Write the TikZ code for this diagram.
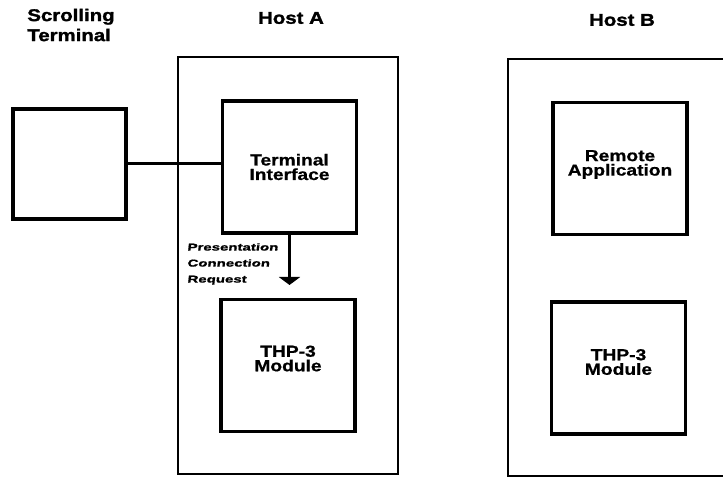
\documentclass[tikz,border=0pt]{standalone}
\usepackage{fontspec}
\setmainfont{Liberation Sans}[FakeStretch=1.2,BoldFeatures={FakeBold=0.8}]
\newfontfamily\titlefont{Liberation Sans}[FakeStretch=1.2,BoldFeatures={FakeBold=1.6}]
\newfontfamily\notefont{Liberation Sans}[FakeStretch=1.5,FakeSlant=0.12,BoldFeatures={FakeBold=1.2}]
\usetikzlibrary{arrows.meta}

\begin{document}
\begin{tikzpicture}
[x=1pt,y=-1pt,
  boxDecorate/.style={shape=rectangle,draw,line width=3.2pt,minimum width=134pt,
    minimum height=132pt,inner sep=0pt},
  textDecorate/.style={inner sep=0pt,align=center,font=\fontsize{16}{14.5}\selectfont\bfseries},
  hostDecorate/.style={shape=rectangle,draw,line width=2.4pt,minimum width=220pt,
    minimum height=417pt,inner sep=0pt},
  titleDecorate/.style={inner sep=0pt,align=center,font=\titlefont\fontsize{17}{20}\selectfont\bfseries},
  lineDecorate/.style={-,line width=3pt},
  arrowDecorate/.style={-{Triangle[width=21pt,length=8pt]},line width=2.6pt}]
\useasboundingbox (0,0) rectangle (723,478);
\clip (0,0) rectangle (723,478);
%% hosts
\node (hostA) at (288,265.5) [hostDecorate] {};
\node (hostB) at (624,267.5) [hostDecorate,minimum width=232pt] {};
%% titles
\node (scroll) at (71,25) [titleDecorate,align=left] {Scrolling\\Terminal};
\foreach \nodename/\x/\y/\txt in {
  titleA/291/18/{Host A}, titleB/622/20/{Host B}}
{
  \node (\nodename) at (\x,\y) [titleDecorate] {\txt};
}
%% boxes
\node (term) at (69.5,164) [boxDecorate,minimum width=113pt,minimum height=110pt] {};
\foreach \nodename/\x/\y in {
  iface/289.5/167, thpA/288/365.5, remote/620/168.5, thpB/618.5/368}
{
  \node (\nodename) at (\x,\y) [boxDecorate] {};
}
%% box texts
\foreach \nodename/\txt/\dy in {
  iface/{Terminal\\Interface}/0, thpA/{THP-3\\Module}/7,
  remote/{Remote\\Application}/4, thpB/{THP-3\\Module}/6}
{
  \node (\nodename-text) at ([yshift=\dy pt]\nodename.center) [textDecorate] {\txt};
}
%% connectors
\coordinate (tip) at (288,285);
\draw[lineDecorate] (term.east) -- (term.east -| iface.west);
\draw[arrowDecorate] (iface.south) -- (iface.south |- tip);
\node (request) at (187,264) [anchor=west,inner sep=0pt,align=left,
  font=\notefont\fontsize{10}{16}\selectfont\bfseries]
  {Presentation\\Connection\\Request};
\end{tikzpicture}
\end{document}
